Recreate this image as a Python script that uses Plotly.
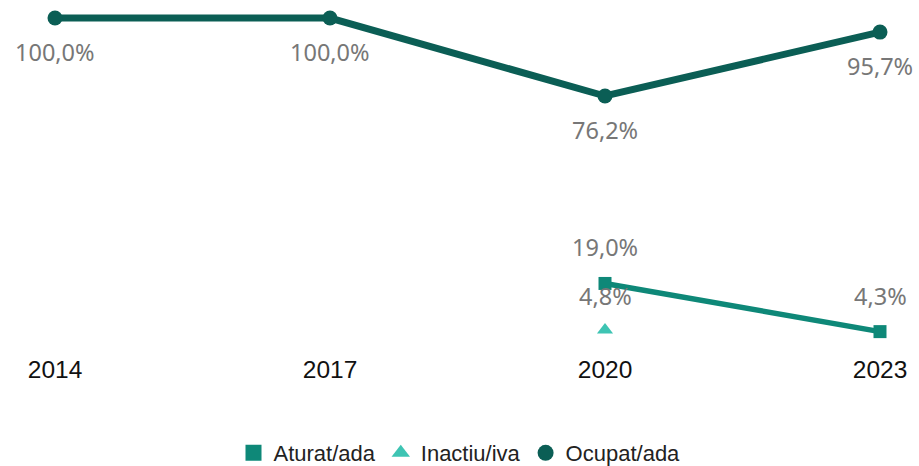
import plotly.graph_objects as go

years = ["2014", "2017", "2020", "2023"]
ocupat = [100.0, 100.0, 76.2, 95.7]
aturat = [None, None, 19.0, 4.3]
inactiu = [None, None, 4.8, None]

c_ocupat = "#0B5E55"
c_aturat = "#0E8878"
c_inactiu = "#3EC4B3"

xi = list(range(len(years)))

def fmt(v):
    return f"{v:.1f}%".replace(".", ",")

fig = go.Figure()
fig.add_trace(go.Scatter(x=xi, y=aturat, name="Aturat/ada", mode="lines+markers", showlegend=False,
                         line=dict(color=c_aturat, width=5.5),
                         marker=dict(symbol="square", size=13, color=c_aturat)))
fig.add_trace(go.Scatter(x=xi, y=inactiu, name="Inactiu/iva", mode="markers", showlegend=False,
                         marker=dict(symbol="triangle-up", size=14, color=c_inactiu)))
fig.add_trace(go.Scatter(x=xi, y=ocupat, name="Ocupat/ada", mode="lines+markers", showlegend=False,
                         line=dict(color=c_ocupat, width=7),
                         marker=dict(symbol="circle", size=15, color=c_ocupat)))

# legend-only entries (markers only, as in the reference)
for name, sym, col in [("Aturat/ada", "square", c_aturat),
                       ("Inactiu/iva", "triangle-up", c_inactiu),
                       ("Ocupat/ada", "circle", c_ocupat)]:
    fig.add_trace(go.Scatter(x=[None], y=[None], name=name, mode="markers",
                             marker=dict(symbol=sym, size=19, color=col)))

annots = []
lab_font = dict(family="Noto Sans, Open Sans, sans-serif", size=23.5, color="#777777")
for i, v in enumerate(ocupat):
    if v is not None:
        annots.append(dict(x=xi[i], y=v, text=fmt(v), showarrow=False, yshift=-34, font=lab_font))
for i, v in enumerate(aturat):
    if v is not None:
        annots.append(dict(x=xi[i], y=v, text=fmt(v), showarrow=False, yshift=36, font=lab_font))
for i, v in enumerate(inactiu):
    if v is not None:
        annots.append(dict(x=xi[i], y=v, text=fmt(v), showarrow=False, yshift=34, font=lab_font))

fig.update_layout(
    width=919, height=466,
    margin=dict(l=0, r=0, t=0, b=114, autoexpand=False),
    paper_bgcolor="white", plot_bgcolor="white",
    annotations=annots,
    xaxis=dict(range=[-0.2, 3.1418], tickmode="array", tickvals=xi, ticktext=years,
               showgrid=False, zeroline=False, showline=False, automargin=False,
               ticklen=0,
               tickfont=dict(family="Liberation Sans, Arial, sans-serif", size=24.5, color="#111")),
    yaxis=dict(range=[-1.92, 105.5], visible=False, showgrid=False, zeroline=False),
    legend=dict(orientation="h", x=0.5, xanchor="center", y=-0.287, yanchor="middle",
                font=dict(family="Liberation Sans, Arial, sans-serif", size=22, color="#222"),
                itemwidth=30, tracegroupgap=0),
    showlegend=True,
)

fig.write_html("out.html", config={"displayModeBar": False},
               post_script="document.body.style.margin='0';")
